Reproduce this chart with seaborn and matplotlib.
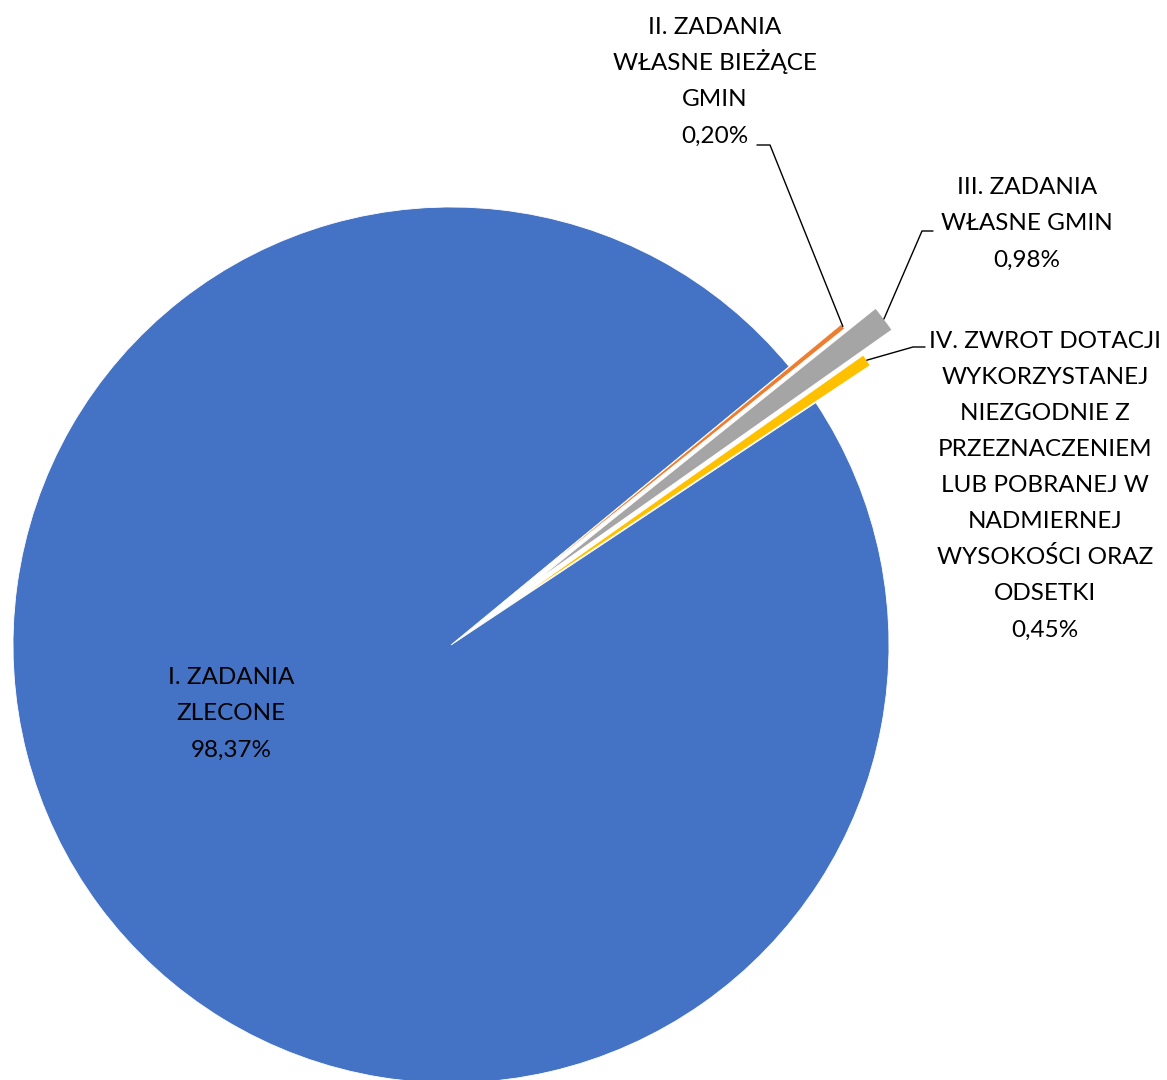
import numpy as np
import matplotlib
matplotlib.use("Agg")
import matplotlib.pyplot as plt
import seaborn as sns

# -------------------------------
# Data
# -------------------------------
categories = [
    "I. ZADANIA\nZLECONE",
    "II. ZADANIA\nWŁASNE BIEŻĄCE\nGMIN",
    "III. ZADANIA\nWŁASNE GMIN",
    "IV. ZWROT DOTACJI\nWYKORZYSTANEJ\nNIEZGODNIE Z\nPRZEZNACZENIEM\nLUB POBRANEJ W\nNADMIERNEJ\nWYSOKOŚCI ORAZ\nODSETKI",
]
shares = [98.37, 0.20, 0.98, 0.45]
pct_labels = ["98,37%", "0,20%", "0,98%", "0,45%"]

colors = ["#4472C4", "#ED7D31", "#A5A5A5", "#FFC000"]

# -------------------------------
# Style
# -------------------------------
sns.set_theme(style="white")
plt.rcParams['font.family'] = ['Lato', 'DejaVu Sans']

fig = plt.figure(figsize=(11.67, 10.8), dpi=100)
ax = fig.add_axes([0, 0, 1, 1])

radius = 438
center = (451, 435)
wedges, _ = ax.pie(
    shares, colors=colors, radius=radius, center=center,
    startangle=33.6, counterclock=False,
    explode=[0, 67, 104, 66],
    wedgeprops=dict(edgecolor="white", linewidth=0.6),
    frame=True,
)
ax.set_xlim(0, 1167)
ax.set_ylim(0, 1080)
ax.set_aspect("equal")
ax.axis("off")

fs = 17.5
line_h = 36  # px between lines, as in the Excel original


def block_text(x, y, text):
    # one text per line so accented capitals don't stretch the spacing
    lines = text.split("\n")
    n = len(lines)
    for k, line in enumerate(lines):
        yc = y + ((n - 1) / 2 - k) * line_h
        ax.text(x, yc - 8.5, line, ha="center", va="baseline",
                fontsize=fs, color="black")


def edge_point(w):
    mid = np.deg2rad((w.theta1 + w.theta2) / 2)
    cx, cy = w.center
    return cx + w.r * np.cos(mid), cy + w.r * np.sin(mid)


# -------------------------------
# Labels
# -------------------------------
block_text(231, 1080 - 712, categories[0] + "\n" + pct_labels[0])

label_pos = [None, (715, 1080 - 80), (1027, 1080 - 222), (1045, 1080 - 484)]
elbows = [None,
          [(770, 1080 - 145), (757, 1080 - 145)],
          [(922, 1080 - 231), (933, 1080 - 231)],
          [(913, 1080 - 347), (925, 1080 - 347)]]

for i in range(1, 4):
    x, y = label_pos[i]
    block_text(x, y, categories[i] + "\n" + pct_labels[i])
    px, py = edge_point(wedges[i])
    pts = [(px, py)] + elbows[i]
    ax.plot([p[0] for p in pts], [p[1] for p in pts], color="black", lw=1.0)

fig.savefig("out.png", dpi=100)
